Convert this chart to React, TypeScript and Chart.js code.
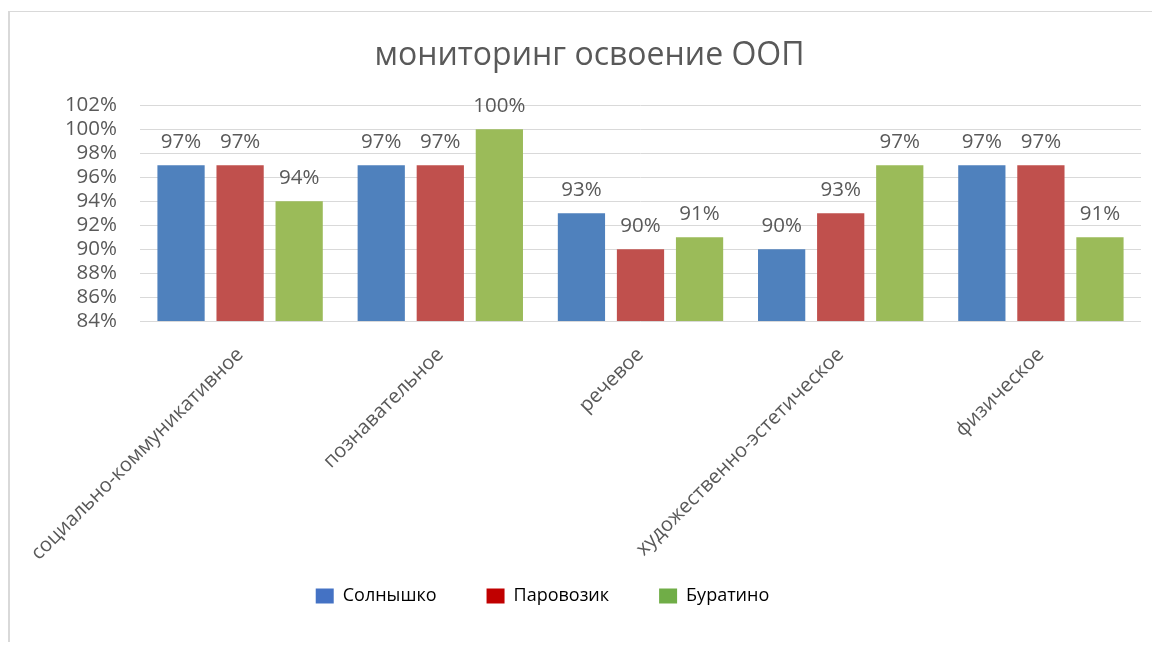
import React, { useEffect, useRef } from "react";
import { Chart, registerables } from "chart.js";

Chart.register(...registerables);

const categories = [
  "социально-коммуникативное",
  "познавательное",
  "речевое",
  "художественно-эстетическое",
  "физическое",
];
const seriesNames = ["Солнышко", "Паровозик", "Буратино"];
const solnyshko = [97, 97, 93, 90, 97];
const parovozik = [97, 97, 90, 93, 97];
const buratino = [94, 100, 91, 97, 91];
const barColors = ["#4F81BD", "#C0504D", "#9BBB59"];
const legendColors = ["#4472C4", "#C00000", "#70AD47"];
const yTicks = [84, 86, 88, 90, 92, 94, 96, 98, 100, 102];
const titleText = "мониторинг освоение ООП";

const FONT = "'Open Sans', 'Noto Sans', sans-serif";
const GRAY = "#595959";

const valueLabels = {
  id: "valueLabels",
  afterDatasetsDraw(chart: any) {
    const ctx = chart.ctx;
    ctx.save();
    ctx.font = `20.5px ${FONT}`;
    ctx.fillStyle = GRAY;
    ctx.textAlign = "center";
    ctx.textBaseline = "middle";
    chart.data.datasets.forEach((ds: any, i: number) => {
      const meta = chart.getDatasetMeta(i);
      meta.data.forEach((el: any, j: number) => {
        ctx.fillText(ds.data[j] + "%", el.x, el.y - 23);
      });
    });
    ctx.restore();
  },
};

// Reproduce the off-centre placement of the original legend and title
const blockShift = {
  id: "blockShift",
  afterLayout(chart: any) {
    const l = chart.legend;
    if (l) {
      l.left -= 33;
      l.right -= 33;
      l.top -= 27;
      l.bottom -= 27;
    }
    const t = chart.titleBlock;
    if (t) {
      t.left += 14;
      t.right += 14;
    }
  },
};

export default function App() {
  const ref = useRef<HTMLCanvasElement>(null);
  useEffect(() => {
    document.body.style.overflow = "hidden";
    const seriesData = [solnyshko, parovozik, buratino];
    const chart = new Chart(ref.current as HTMLCanvasElement, {
      type: "bar",
      data: {
        labels: categories,
        datasets: seriesNames.map((name, i) => ({
          label: name,
          data: seriesData[i],
          backgroundColor: barColors[i],
          categoryPercentage: 0.885,
          barPercentage: 0.8,
        })),
      },
      options: {
        responsive: false,
        animation: false,
        layout: { padding: { left: 0, right: 11, top: 0, bottom: 0 } },
        plugins: {
          title: {
            display: true,
            text: titleText,
            color: GRAY,
            font: { family: FONT, size: 32, weight: "normal" },
            padding: { top: 25, bottom: 30 },
          },
          legend: {
            position: "bottom",
            labels: {
              font: { family: FONT, size: 18 },
              color: "#222",
              boxWidth: 18,
              boxHeight: 15,
              padding: 50,
              generateLabels: () =>
                seriesNames.map((name, i) => ({
                  text: name,
                  fillStyle: legendColors[i],
                  strokeStyle: legendColors[i],
                  lineWidth: 0,
                  datasetIndex: i,
                  hidden: false,
                })),
            },
          },
          tooltip: { enabled: false },
        },
        scales: {
          x: {
            grid: { display: false, drawTicks: false },
            border: { display: false },
            ticks: {
              autoSkip: false,
              minRotation: 45,
              maxRotation: 45,
              color: GRAY,
              font: { family: FONT, size: 20 },
              padding: 22,
            },
            afterFit: (scale: any) => {
              scale.height = 243;
              scale.paddingLeft = 0;
              scale.paddingRight = 0;
            },
          },
          y: {
            min: 84,
            max: 102,
            afterBuildTicks: (scale: any) => {
              scale.ticks = yTicks.map((v) => ({ value: v }));
            },
            grid: { color: "#d9d9d9", drawTicks: false },
            border: { display: false },
            ticks: {
              autoSkip: false,
              color: GRAY,
              font: { family: FONT, size: 20.5 },
              padding: 23,
              callback: (v: any) => v + "%",
            },
            afterFit: (scale: any) => {
              scale.width = 130;
            },
          },
        },
      },
      plugins: [valueLabels, blockShift],
    });
    return () => chart.destroy();
  }, []);

  return (
    <div
      style={{
        position: "absolute",
        left: 8,
        top: 11,
        width: 1142,
        height: 630,
        borderTop: "1px solid #d9d9d9",
        borderLeft: "2px solid #d9d9d9",
        background: "#fff",
      }}
    >
      <canvas ref={ref} width={1142} height={630} style={{ display: "block" }} />
    </div>
  );
}
